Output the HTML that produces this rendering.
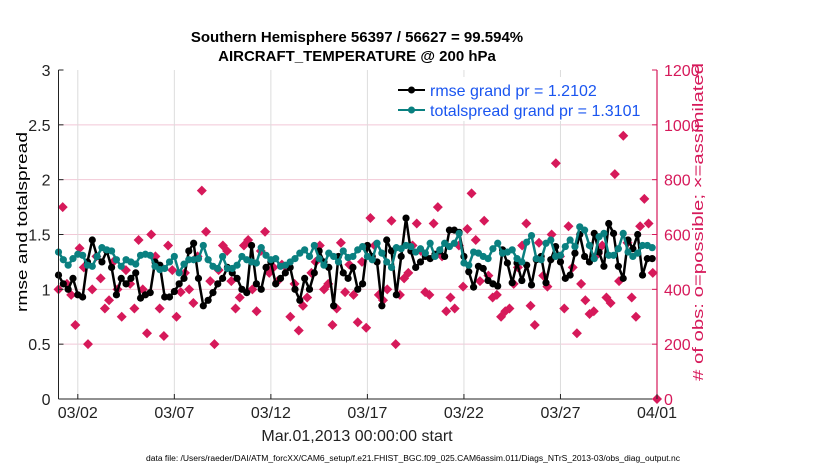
<!DOCTYPE html>
<html><head><meta charset="utf-8"><style>
html,body{margin:0;padding:0;background:#fff;}
svg{display:block;font-family:"Liberation Sans",Arial,sans-serif;}
</style></head><body>
<svg id="chart" width="830" height="470" viewBox="0 0 830 470" xmlns="http://www.w3.org/2000/svg">
<rect x="0" y="0" width="830" height="470" fill="#fff"/>
<g font-weight="bold" font-size="15" text-anchor="middle" fill="#000">
<text x="357" y="42">Southern Hemisphere 56397 / 56627 = 99.594%</text>
<text x="357" y="61">AIRCRAFT_TEMPERATURE @ 200 hPa</text>
</g>
<rect x="58.5" y="70" width="598.5" height="329" fill="#fff"/>
<g id="grid"></g>
<g id="marks"></g>
<g id="axes"></g>
<g>
<rect x="384" y="77" width="268" height="44" fill="#fff"/>
<g>
<line x1="398" y1="90" x2="425" y2="90" stroke="#000" stroke-width="2"/><circle cx="411.5" cy="90" r="3.5" fill="#000"/>
<text x="430" y="96" font-size="16" fill="#1a55f0">rmse grand pr = 1.2102</text></g>
<g>
<line x1="398" y1="110" x2="425" y2="110" stroke="#0a8080" stroke-width="2"/><circle cx="411.5" cy="110" r="3.5" fill="#0a8080"/>
<text x="430" y="116" font-size="16" fill="#1a55f0">totalspread grand pr = 1.3101</text></g>
</g>
<text transform="translate(27,222) rotate(-90)" text-anchor="middle" font-size="15" textLength="180" lengthAdjust="spacingAndGlyphs" fill="#000">rmse and totalspread</text>
<text transform="translate(703,222) rotate(-90)" text-anchor="middle" font-size="15" textLength="318" lengthAdjust="spacingAndGlyphs" fill="#d6195a"># of obs: o=possible; ×=assimilated</text>
<text x="357" y="441" text-anchor="middle" font-size="16" fill="#222">Mar.01,2013 00:00:00 start</text>
<text x="413" y="461" text-anchor="middle" font-size="8" textLength="534" lengthAdjust="spacingAndGlyphs" fill="#000">data file: /Users/raeder/DAI/ATM_forcXX/CAM6_setup/f.e21.FHIST_BGC.f09_025.CAM6assim.011/Diags_NTrS_2013-03/obs_diag_output.nc</text>
</svg>
<script>
const xTickDays=[1,6,11,16,21,26,31];
const xTickLabels=["03/02","03/07","03/12","03/17","03/22","03/27","04/01"];
const yTicksLeft=[0,0.5,1,1.5,2,2.5,3];
const yTickLabelsLeft=["0","0.5","1","1.5","2","2.5","3"];
const yTicksRight=[0,200,400,600,800,1000,1200];
const rmse=[1.13,1.05,1.0,1.1,0.95,0.93,1.25,1.45,1.3,1.25,1.35,1.2,0.95,1.1,1.05,1.1,1.15,0.92,0.95,0.97,
1.25,1.22,0.93,0.93,0.98,1.05,1.1,1.35,1.42,1.1,0.85,0.9,0.97,1.05,1.1,1.2,1.15,1.1,1.0,0.97,
1.4,1.05,1.0,1.2,1.25,1.05,1.1,1.15,1.2,1.0,0.9,1.1,1.0,1.15,1.35,1.25,1.2,0.85,1.3,1.15,
1.1,1.2,1.0,1.05,1.4,1.3,1.25,0.85,1.45,1.35,0.95,1.3,1.65,1.35,1.2,1.25,1.3,1.28,1.32,1.35,
1.3,1.54,1.54,1.52,1.30,1.16,1.02,1.21,1.19,1.08,1.05,1.03,1.36,1.24,1.06,1.24,1.08,1.22,1.04,1.27,
1.30,1.06,1.27,1.39,1.25,1.10,1.13,1.33,1.50,1.30,1.25,1.51,1.34,1.21,1.60,1.51,1.21,1.10,1.45,1.37,
1.50,1.13,1.28,1.28];
const spread=[1.34,1.27,1.22,1.28,1.32,1.31,1.22,1.21,1.3,1.38,1.36,1.35,1.27,1.21,1.27,1.25,1.23,1.31,1.32,1.31,
1.21,1.18,1.19,1.25,1.3,1.15,1.23,1.27,1.27,1.28,1.4,1.27,1.21,1.19,1.3,1.19,1.19,1.22,1.3,1.27,
1.25,1.24,1.38,1.31,1.27,1.28,1.21,1.22,1.25,1.28,1.33,1.36,1.3,1.4,1.28,1.22,1.33,1.3,1.25,1.35,
1.29,1.3,1.36,1.39,1.3,1.27,1.42,1.33,1.25,1.2,1.38,1.37,1.4,1.39,1.34,1.37,1.33,1.42,1.3,1.36,
1.42,1.39,1.42,1.51,1.24,1.22,1.34,1.33,1.30,1.28,1.37,1.42,1.33,1.34,1.36,1.28,1.25,1.43,1.49,1.28,
1.27,1.42,1.45,1.30,1.31,1.39,1.45,1.39,1.57,1.54,1.40,1.28,1.48,1.51,1.31,1.31,1.37,1.51,1.34,1.30,
1.33,1.40,1.40,1.38];
const obs=[400,700,420,380,270,550,480,200,400,520,440,330,360,500,400,300,470,420,330,580,
400,240,600,520,330,230,560,470,300,390,460,400,350,520,760,610,430,200,470,560,
540,430,330,370,560,580,400,320,540,610,460,480,430,490,480,300,420,250,340,370,
460,500,560,400,420,270,330,570,390,490,380,280,500,260,660,560,380,360,400,650,
200,380,440,460,560,640,540,390,380,640,700,520,320,370,330,560,410,620,750,580,
430,650,450,370,380,300,320,330,420,480,560,640,340,270,570,450,410,600,860,520,
330,630,480,240,420,360,310,320,530,560,370,350,820,430,960,570,370,300,630,730,640,460,0];
const obsT=obs.map((v,i)=>i*31/(obs.length-1));
const XL=58.5,XR=657,YT=70,YB=399;
function xs(t){return XL+(t/31)*(XR-XL);}
function yl(v){return YB-(v/3)*(YB-YT);}
function yr(v){return YB-(v/1200)*(YB-YT);}
const NS="http://www.w3.org/2000/svg";
function mk(tag,attrs,parent){const e=document.createElementNS(NS,tag);for(const k in attrs)e.setAttribute(k,attrs[k]);parent.appendChild(e);return e;}
const grid=document.getElementById('grid'),marks=document.getElementById('marks'),axes=document.getElementById('axes');
yTicksLeft.forEach((v,i)=>{
 if(v>0&&v<3){const g=mk('line',{x1:XL,x2:XR,y1:yl(v),y2:yl(v),stroke:'#f2c8d6','stroke-width':1},grid);
 
 }
});
xTickDays.forEach((d,i)=>{
 const g=mk('line',{x1:xs(d),x2:xs(d),y1:YT,y2:YB,stroke:'#dcdcdc','stroke-width':1},grid);
 
 
});
obs.forEach((v,i)=>{
 const cx=xs(obsT[i]),cy=yr(v);
 const m=mk('path',{d:`M${cx-5},${cy} L${cx},${cy-5} L${cx+5},${cy} L${cx},${cy+5} Z`,fill:'#d6195a'},marks);
 
 
});
function series(arr,color,name){
 const t=arr.map((v,i)=>i*0.25);
 const p=mk('polyline',{points:arr.map((v,i)=>xs(t[i])+','+yl(v)).join(' '),fill:'none',stroke:color,'stroke-width':2.5,'stroke-linejoin':'round'},marks);
 
 
 arr.forEach((v,i)=>{
  const c=mk('circle',{cx:xs(t[i]),cy:yl(v),r:3.6,fill:color},marks);
  
  
 });
}
series(rmse,'#000','rmse');
series(spread,'#0a8080','totalspread');
let a=mk('line',{x1:XL,x2:XL,y1:YT,y2:YB,stroke:'#222','stroke-width':1},axes);


a=mk('line',{x1:XL,x2:XR,y1:YB,y2:YB,stroke:'#222','stroke-width':1},axes);


a=mk('line',{x1:XR,x2:XR,y1:YT,y2:YB,stroke:'#d6195a','stroke-width':1.2},axes);


yTicksLeft.forEach((v,i)=>{
 mk('line',{x1:XL,x2:XL+5,y1:yl(v),y2:yl(v),stroke:'#222'},axes);
 const t=mk('text',{x:XL-8,y:yl(v)+6,'text-anchor':'end','font-size':16,fill:'#222'},axes);
 t.textContent=yTickLabelsLeft[i];
 
 
});
yTicksRight.forEach((v,i)=>{
 mk('line',{x1:XR-5,x2:XR,y1:yr(v),y2:yr(v),stroke:'#d6195a'},axes);
 const t=mk('text',{x:XR+7,y:yr(v)+6,'font-size':16,fill:'#d6195a'},axes);
 t.textContent=String(v);
 
 
});
xTickDays.forEach((d,i)=>{
 mk('line',{x1:xs(d),x2:xs(d),y1:YB,y2:YB-5,stroke:'#222'},axes);
 const t=mk('text',{x:xs(d),y:YB+19,'text-anchor':'middle','font-size':16,fill:'#222'},axes);
 t.textContent=xTickLabels[i];
 
 
});
</script>
</body></html>
